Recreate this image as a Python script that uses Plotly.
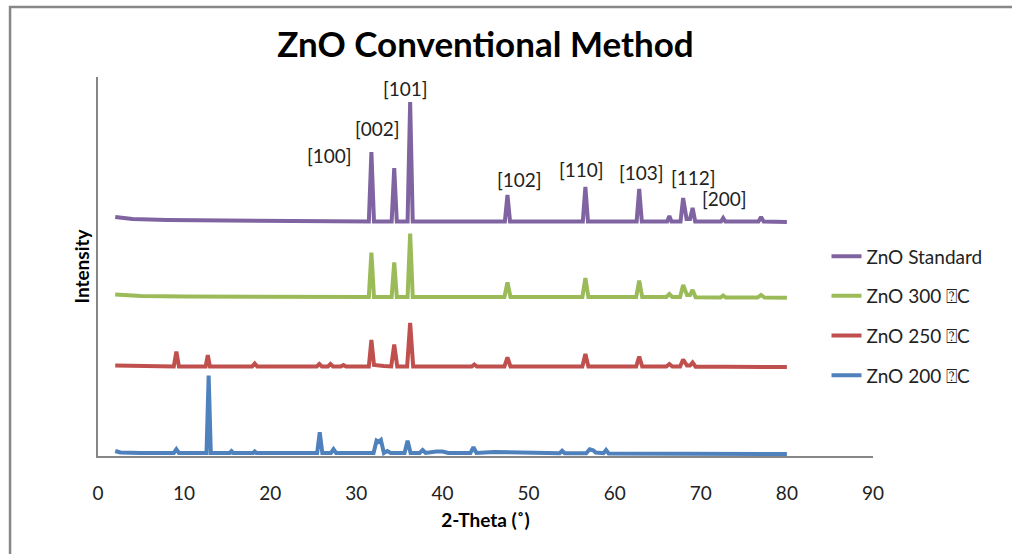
import plotly.graph_objects as go

# ---- data (2-Theta in degrees, intensity in arbitrary units, offset stacked) ----
x_std = [2.0, 4, 8, 14, 20, 26, 31.45, 31.75, 32.05, 34.1, 34.4, 34.7, 35.95, 36.25, 36.55, 40, 44,
         47.25, 47.55, 47.85, 52, 56.3, 56.6, 56.9, 60, 62.55, 62.85, 63.15, 66.1, 66.35, 66.6,
         67.65, 67.95, 68.35, 68.75, 69.05, 69.35, 72.35, 72.6, 72.85, 76.7, 77.0, 77.3, 80]
y_std = [2390, 2370, 2360, 2355, 2350, 2350, 2345, 3040, 2345, 2345, 2880, 2345, 2345, 3540, 2345, 2345, 2345,
         2345, 2610, 2345, 2345, 2345, 2690, 2345, 2345, 2345, 2670, 2345, 2345, 2400, 2345,
         2345, 2580, 2370, 2370, 2480, 2345, 2345, 2380, 2345, 2345, 2390, 2345, 2340]

x_300 = [2.0, 5, 10, 20, 31.45, 31.75, 32.05, 34.1, 34.4, 34.7, 35.95, 36.25, 36.55, 42,
         47.2, 47.55, 47.9, 52, 56.25, 56.6, 56.95, 62.5, 62.85, 63.2, 66.0, 66.35, 66.7,
         67.6, 67.95, 68.4, 68.75, 69.05, 69.4, 72.3, 72.6, 72.9, 76.6, 77.0, 77.4, 80]
y_300 = [1615, 1600, 1595, 1590, 1590, 2035, 1590, 1590, 1935, 1590, 1590, 2225, 1590, 1590,
         1590, 1735, 1590, 1590, 1590, 1780, 1590, 1590, 1755, 1590, 1590, 1620, 1590,
         1590, 1710, 1610, 1610, 1660, 1588, 1585, 1605, 1585, 1585, 1610, 1585, 1583]

x_250 = [2.0, 5, 8.8, 9.1, 9.4, 12.5, 12.75, 13.0, 17.9, 18.2, 18.5, 22, 25.4, 25.7, 26.0,
         26.7, 27.0, 27.3, 28.2, 28.5, 28.8, 31.45, 31.75, 32.05, 32.6, 33.2, 34.05, 34.4, 34.75,
         35.9, 36.25, 36.6, 40, 43.4, 43.7, 44.0, 47.2, 47.55, 47.9, 52, 56.25, 56.6, 56.95,
         62.5, 62.85, 63.2, 66.0, 66.35, 66.7, 67.6, 67.95, 68.4, 68.75, 69.05, 69.4, 73, 80]
y_250 = [905, 900, 895, 1045, 895, 895, 1010, 895, 895, 925, 895, 895, 895, 920, 895,
         895, 920, 895, 895, 910, 895, 895, 1160, 910, 910, 900, 895, 1115, 895,
         895, 1330, 895, 895, 895, 915, 895, 895, 985, 895, 895, 895, 1020, 895,
         895, 995, 895, 895, 920, 895, 895, 965, 905, 905, 935, 893, 892, 890]

x_200 = [2.0, 2.6, 5, 8.8, 9.1, 9.4, 12.6, 12.85, 13.1, 15.3, 15.5, 15.7, 18.0, 18.2, 18.4, 22,
         25.45, 25.75, 26.05, 27.05, 27.35, 27.65, 30, 32.0, 32.35, 32.6, 32.85, 33.2, 33.6, 34.0,
         35.6, 35.95, 36.3, 37.35, 37.7, 38.05, 39.3, 40.0, 40.7, 43.25, 43.6, 43.95, 46.0, 48.5,
         53.6, 53.9, 54.2, 56.7, 57.1, 57.5, 57.8, 58.7, 59.0, 59.3, 63, 67.8, 72, 76, 80]
y_200 = [50, 35, 30, 30, 67, 30, 30, 805, 30, 30, 48, 30, 30, 45, 30, 30,
         30, 237, 30, 30, 67, 30, 30, 30, 153, 140, 160, 30, 50, 30,
         30, 153, 30, 30, 60, 30, 45, 45, 30, 30, 87, 30, 40, 35,
         28, 53, 28, 28, 67, 58, 35, 28, 60, 25, 25, 30, 25, 22, 20]

series_names = ["ZnO Standard", "ZnO 300 \u2370C", "ZnO 250 \u2370C", "ZnO 200 \u2370C"]
series_colors = ["#8064A2", "#9BBB59", "#C0504D", "#4F81BD"]

peak_labels = ["[100]", "[002]", "[101]", "[102]", "[110]", "[103]", "[112]", "[200]"]
label_x = [26.9, 32.4, 35.7, 49.0, 56.2, 63.1, 69.1, 72.7]
label_y = [3010, 3275, 3680, 2770, 2865, 2840, 2790, 2575]

x_ticks = [0, 10, 20, 30, 40, 50, 60, 70, 80, 90]

FONT = "Lato, 'Open Sans', sans-serif"

fig = go.Figure()
for xs, ys, name, col in zip([x_std, x_300, x_250, x_200], [y_std, y_300, y_250, y_200],
                             series_names, series_colors):
    fig.add_trace(go.Scatter(x=xs, y=ys, mode="lines", name=name, legendgroup=name,
                             line=dict(color=col, width=4)))

for t, xx, yy in zip(peak_labels, label_x, label_y):
    fig.add_annotation(x=xx, y=yy, text=t, showarrow=False, xref="x", yref="y",
                       font=dict(family=FONT, size=19, color="#222222"))

# outer chart border
fig.add_shape(type="rect", xref="paper", yref="paper", x0=-0.1135, x1=1.25, y0=-0.3, y1=1.185,
              line=dict(color="#878787", width=2.5), fillcolor="rgba(0,0,0,0)", layer="above")

fig.update_layout(
    width=1012, height=554,
    margin=dict(l=98, r=139, t=77, b=98, autoexpand=False),
    paper_bgcolor="white", plot_bgcolor="white",
    font=dict(family=FONT, color="#222222"),
    title=dict(text="<b>ZnO Conventional Method</b>", x=0.5, xref="paper", xanchor="center",
               y=1 - 45 / 554, yref="container", yanchor="middle", automargin=False,
               font=dict(family=FONT, size=35, color="#000000")),
    showlegend=True,
    legend=dict(x=0.94, xanchor="left", y=0.577, yanchor="top", traceorder="grouped",
                tracegroupgap=12, font=dict(family=FONT, size=19, color="#222222"),
                bgcolor="rgba(0,0,0,0)"),
    xaxis=dict(range=[0, 90], tickvals=x_ticks, ticktext=[str(v) for v in x_ticks],
               showline=True, linecolor="#868686", linewidth=1.5, showgrid=False, zeroline=False,
               automargin=False,
               ticks="", ticklabelstandoff=19, tickfont=dict(family=FONT, size=19, color="#222222"),
               title=dict(text="<b>2-Theta (\u02da)</b>", standoff=11,
                          font=dict(family=FONT, size=19, color="#000000"))),
    yaxis=dict(range=[0, 3790], showline=True, linecolor="#868686", linewidth=1.5,
               showgrid=False, zeroline=False, showticklabels=False, ticks="", automargin=False,
               title=dict(text="<b>Intensity</b>", standoff=2,
                          font=dict(family=FONT, size=19, color="#000000"))),
)

fig.write_html("out.html", config={"displayModeBar": False},
               post_script="document.body.style.margin='0';document.body.style.overflow='hidden';")
